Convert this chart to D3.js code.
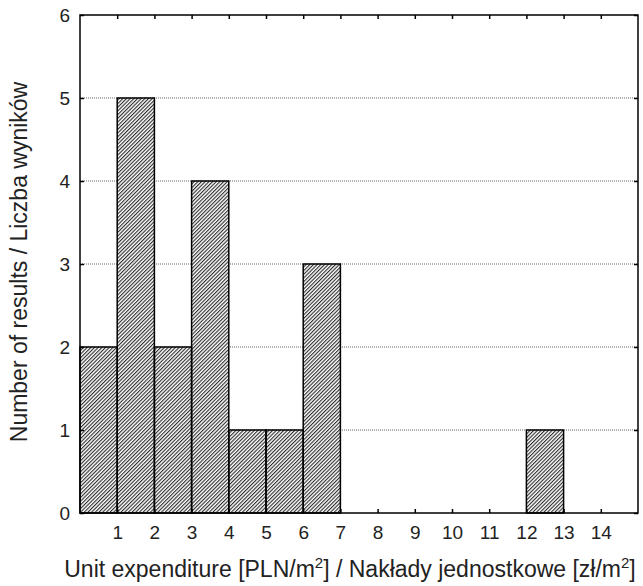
<!DOCTYPE html>
<html>
<head>
<meta charset="utf-8">
<script src="https://cdn.jsdelivr.net/npm/d3@7"></script>
<style>
  body { margin: 0; background: #fff; }
  text { font-family: "Liberation Sans", Arial, sans-serif; fill: #222; }
</style>
</head>
<body>
<svg id="chart"></svg>
<script>
// histogram bins: [lower edge, upper edge] and counts
var binStart = [0, 1, 2, 3, 4, 5, 6, 12];
var binEnd   = [1, 2, 3, 4, 5, 6, 7, 13];
var counts   = [2, 5, 2, 4, 1, 1, 3, 1];
var xTicks = [1, 2, 3, 4, 5, 6, 7, 8, 9, 10, 11, 12, 13, 14];
var yTicks = [0, 1, 2, 3, 4, 5, 6];

var width = 643, height = 586;
var margin = { left: 80, right: 5, top: 15, bottom: 73 };

var svg = d3.select("#chart")
    .attr("width", width)
    .attr("height", height);

// diagonal hatch pattern
var defs = svg.append("defs");
defs.append("pattern")
    .attr("id", "hatch")
    .attr("patternUnits", "userSpaceOnUse")
    .attr("width", 2.6)
    .attr("height", 2.6)
    .attr("patternTransform", "rotate(45)")
  .append("line")
    .attr("x1", 0.6).attr("y1", 0)
    .attr("x2", 0.6).attr("y2", 2.6)
    .attr("stroke", "#111")
    .attr("stroke-width", 1);

var x = d3.scaleLinear()
    .domain([0, 15])
    .range([margin.left, width - margin.right]);

var y = d3.scaleLinear()
    .domain([0, 6])
    .range([height - margin.bottom, margin.top]);

// dotted gridlines
svg.append("g")
    .selectAll("line")
    .data(yTicks.filter(function(d) { return d > 0 && d < 6; }))
    .enter().append("line")
    .attr("x1", x(0)).attr("x2", x(15))
    .attr("y1", function(d) { return y(d); })
    .attr("y2", function(d) { return y(d); })
    .attr("stroke", "#666")
    .attr("stroke-width", 1)
    .attr("stroke-dasharray", "1,1");

// bars
var bars = binStart.map(function(s, i) {
    return { x0: s, x1: binEnd[i], count: counts[i] };
});

var barG = svg.append("g");
barG.selectAll("rect.fill")
    .data(bars)
    .enter().append("rect")
    .attr("x", function(d) { return x(d.x0); })
    .attr("y", function(d) { return y(d.count); })
    .attr("width", function(d) { return x(d.x1) - x(d.x0); })
    .attr("height", function(d) { return y(0) - y(d.count); })
    .attr("fill", "#fff");
barG.selectAll("rect.bar")
    .data(bars)
    .enter().append("rect")
    .attr("class", "bar")
    .attr("x", function(d) { return x(d.x0); })
    .attr("y", function(d) { return y(d.count); })
    .attr("width", function(d) { return x(d.x1) - x(d.x0); })
    .attr("height", function(d) { return y(0) - y(d.count); })
    .attr("fill", "url(#hatch)")
    .attr("stroke", "#000")
    .attr("stroke-width", 1.5);

// frame
svg.append("rect")
    .attr("x", x(0)).attr("y", y(6))
    .attr("width", x(15) - x(0))
    .attr("height", y(0) - y(6))
    .attr("fill", "none")
    .attr("stroke", "#000")
    .attr("stroke-width", 1.5);

// inward ticks on all four sides
var tickLen = 4;
var fmt = d3.format("d");
var gb = svg.append("g")
    .attr("transform", "translate(0," + y(0) + ")")
    .call(d3.axisBottom(x).tickValues(xTicks).tickSize(-tickLen).tickFormat(fmt));
var gt = svg.append("g")
    .attr("transform", "translate(0," + y(6) + ")")
    .call(d3.axisTop(x).tickValues(xTicks).tickSize(-tickLen).tickFormat(""));
var gl = svg.append("g")
    .attr("transform", "translate(" + x(0) + ",0)")
    .call(d3.axisLeft(y).tickValues(yTicks).tickSize(-tickLen).tickFormat(fmt));
var gr = svg.append("g")
    .attr("transform", "translate(" + x(15) + ",0)")
    .call(d3.axisRight(y).tickValues(yTicks).tickSize(-tickLen).tickFormat(""));

[gb, gt, gl, gr].forEach(function(g) {
    g.select(".domain").remove();
    g.selectAll(".tick line").attr("stroke", "#000").attr("stroke-width", 1.5);
    g.selectAll("text")
        .style("font-family", "'Liberation Sans', Arial, sans-serif")
        .style("font-size", "19px")
        .attr("fill", "#222");
});
gb.selectAll(".tick text").attr("y", 26).attr("dy", 0);
gl.selectAll(".tick text").attr("x", -10).attr("dy", "0.36em");

// axis titles
var xTitle = svg.append("text")
    .attr("x", 350)
    .attr("y", 577)
    .attr("text-anchor", "middle")
    .style("font-size", "23px");
xTitle.append("tspan").text("Unit expenditure [PLN/m");
xTitle.append("tspan").attr("dy", -9).style("font-size", "15px").text("2");
xTitle.append("tspan").attr("dy", 9).text("] / Nakłady jednostkowe [zł/m");
xTitle.append("tspan").attr("dy", -9).style("font-size", "15px").text("2");
xTitle.append("tspan").attr("dy", 9).text("]");

svg.append("text")
    .attr("transform", "translate(27,262) rotate(-90)")
    .attr("text-anchor", "middle")
    .style("font-size", "23px")
    .text("Number of results / Liczba wyników");
</script>
</body>
</html>
